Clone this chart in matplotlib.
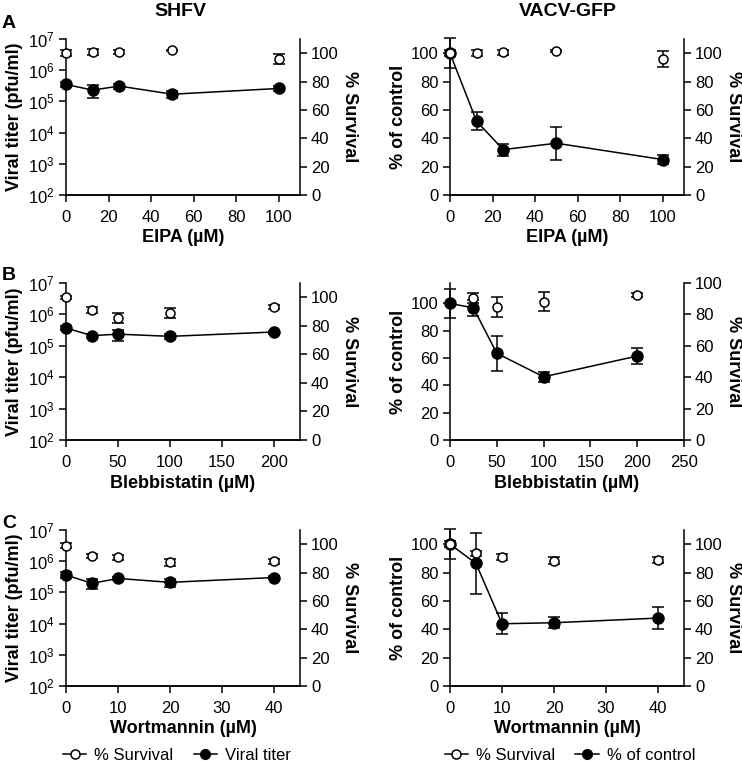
import matplotlib
matplotlib.use("Agg")
import matplotlib.pyplot as plt
from matplotlib.lines import Line2D
import numpy as np

plt.rcParams['font.family'] = ['Liberation Sans', 'DejaVu Sans']

# ---------------- data ----------------
# Panel A: EIPA
eipa_x = [0, 12.5, 25, 50, 100]
shfv_eipa_titer = [3.5e5, 2.3e5, 3.1e5, 1.7e5, 2.6e5]
shfv_eipa_titer_err = [0.7e5, 1.0e5, 0.6e5, 0.4e5, 0.5e5]
shfv_eipa_surv = [100, 100.7, 100.7, 101.9, 95.8]
shfv_eipa_surv_err = [2, 2, 1.5, 0.5, 3.5]
vacv_eipa_ctrl = [100, 52, 32, 36.5, 25]
vacv_eipa_ctrl_err = [10.5, 6.2, 4.3, 11.7, 3]
vacv_eipa_surv = [100, 100, 100.5, 101.4, 96]
vacv_eipa_surv_err = [2, 2, 1.5, 0.5, 5.4]

# Panel B: Blebbistatin
bleb_x = [0, 25, 50, 100, 200]
shfv_bleb_titer = [3.7e5, 2.1e5, 2.35e5, 2.0e5, 2.75e5]
shfv_bleb_titer_err = [0.5e5, 0.3e5, 0.9e5, 0.3e5, 0.3e5]
shfv_bleb_surv = [100, 91.1, 85.7, 88.8, 93.4]
shfv_bleb_surv_err = [1, 2, 3.5, 3.5, 1.5]
vacv_bleb_ctrl = [100, 96.8, 63.5, 46.3, 61.5]
vacv_bleb_ctrl_err = [10.7, 6, 13, 3.7, 5.7]
vacv_bleb_surv = [np.nan, 90.5, 84.6, 88, 92.2]
vacv_bleb_surv_err = [0, 3.2, 6.5, 6, 1.4]

# Panel C: Wortmannin
wort_x = [0, 5, 10, 20, 40]
shfv_wort_titer = [3.6e5, 1.95e5, 2.8e5, 2.1e5, 3.0e5]
shfv_wort_titer_err = [0.8e5, 0.7e5, 0.3e5, 0.6e5, 0.3e5]
shfv_wort_surv = [99, 91.9, 90.7, 87.4, 87.9]
shfv_wort_surv_err = [1.5, 1.5, 2, 2.5, 2]
vacv_wort_ctrl = [100, 86.4, 43.9, 44.6, 47.9]
vacv_wort_ctrl_err = [10.5, 21.7, 7.5, 3.9, 8]
vacv_wort_surv = [100, 93.5, 91.1, 88.3, 88.8]
vacv_wort_surv_err = [2, 2, 2, 2.5, 2]

panel_letters = ['A', 'B', 'C']
col_titles = ['SHFV', 'VACV-GFP']
xlabels = ['EIPA (µM)', 'Blebbistatin (µM)', 'Wortmannin (µM)']

# ---------------- layout ----------------
W, H = 742, 761
fig = plt.figure(figsize=(W / 100, H / 100), dpi=100)

def frac_rect(x0, x1, ytop, ybot):
    return [x0 / W, 1 - ybot / H, (x1 - x0) / W, (ybot - ytop) / H]

rows_y = [(39, 195), (283, 440), (530, 686)]
left_x = (66, 300)
right_x = (450, 684)

TICK_FS = 12
LABEL_FS = 13
LW = 1.1

def style(ax):
    ax.spines['top'].set_visible(False)
    for s in ['left', 'right', 'bottom']:
        ax.spines[s].set_linewidth(LW)
    ax.tick_params(direction='out', length=5, width=LW, labelsize=TICK_FS, pad=3)
    ax.tick_params(axis='x', pad=6)
    ax.patch.set_alpha(0)

def plot_main(ax, x, y, err):
    ax.errorbar(x, y, yerr=err, fmt='-o', color='black', mfc='black', mec='black',
                ms=8, lw=1.1, elinewidth=1.1, capsize=4.5, capthick=1.1,
                clip_on=False, zorder=3)

def plot_surv(ax, x, y, err):
    ax.errorbar(x, y, yerr=err, fmt='o', color='black', mfc='white', mec='black',
                ms=6.5, mew=1.1, elinewidth=1.1, capsize=4.5, capthick=1.1,
                clip_on=False, zorder=4)

rows = [
    dict(x=eipa_x, xlim=(0, 110), xticks=[0, 20, 40, 60, 80, 100],
         xlim_r=(0, 110), xticks_r=[0, 20, 40, 60, 80, 100],
         titer=shfv_eipa_titer, titer_err=shfv_eipa_titer_err,
         ssurv=shfv_eipa_surv, ssurv_err=shfv_eipa_surv_err,
         ctrl=vacv_eipa_ctrl, ctrl_err=vacv_eipa_ctrl_err,
         vsurv=vacv_eipa_surv, vsurv_err=vacv_eipa_surv_err,
         ctrl_ylim=(0, 110), vsurv_ylim=(0, 110)),
    dict(x=bleb_x, xlim=(0, 225), xticks=[0, 50, 100, 150, 200],
         xlim_r=(0, 250), xticks_r=[0, 50, 100, 150, 200, 250],
         titer=shfv_bleb_titer, titer_err=shfv_bleb_titer_err,
         ssurv=shfv_bleb_surv, ssurv_err=shfv_bleb_surv_err,
         ctrl=vacv_bleb_ctrl, ctrl_err=vacv_bleb_ctrl_err,
         vsurv=vacv_bleb_surv, vsurv_err=vacv_bleb_surv_err,
         ctrl_ylim=(0, 115), vsurv_ylim=(0, 100)),
    dict(x=wort_x, xlim=(0, 45), xticks=[0, 10, 20, 30, 40],
         xlim_r=(0, 45), xticks_r=[0, 10, 20, 30, 40],
         titer=shfv_wort_titer, titer_err=shfv_wort_titer_err,
         ssurv=shfv_wort_surv, ssurv_err=shfv_wort_surv_err,
         ctrl=vacv_wort_ctrl, ctrl_err=vacv_wort_ctrl_err,
         vsurv=vacv_wort_surv, vsurv_err=vacv_wort_surv_err,
         ctrl_ylim=(0, 110), vsurv_ylim=(0, 110)),
]

YL_X = -0.185
YR_X = 1.175
XL_Y = -0.22

for i, r in enumerate(rows):
    ytop, ybot = rows_y[i]
    # ---- SHFV (left column) ----
    ax = fig.add_axes(frac_rect(*left_x, ytop, ybot))
    ax.set_yscale('log')
    ax.set_ylim(1e2, 1e7)
    ax.set_yticks([1e2, 1e3, 1e4, 1e5, 1e6, 1e7])
    ax.yaxis.set_minor_locator(matplotlib.ticker.NullLocator())
    ax.set_xlim(*r['xlim'])
    ax.set_xticks(r['xticks'])
    style(ax)
    ax.spines['right'].set_visible(False)
    plot_main(ax, r['x'], r['titer'], r['titer_err'])
    ax.set_ylabel('Viral titer (pfu/ml)', fontsize=LABEL_FS, fontweight='bold')
    ax.yaxis.set_label_coords(YL_X, 0.5)
    ax.set_xlabel(xlabels[i], fontsize=LABEL_FS, fontweight='bold')
    ax.xaxis.set_label_coords(0.5, XL_Y)
    ax2 = ax.twinx()
    style(ax2)
    ax2.spines['left'].set_visible(False)
    ax2.set_ylim(0, 110)
    ax2.set_yticks([0, 20, 40, 60, 80, 100])
    plot_surv(ax2, r['x'], r['ssurv'], r['ssurv_err'])
    ax2.set_ylabel('% Survival', fontsize=LABEL_FS, fontweight='bold', rotation=-90,
                   va='bottom')
    ax2.yaxis.set_label_coords(YR_X, 0.5)

    # ---- VACV-GFP (right column) ----
    bx = fig.add_axes(frac_rect(*right_x, ytop, ybot))
    bx.set_ylim(*r['ctrl_ylim'])
    bx.set_yticks([0, 20, 40, 60, 80, 100])
    bx.set_xlim(*r['xlim_r'])
    bx.set_xticks(r['xticks_r'])
    style(bx)
    bx.spines['right'].set_visible(False)
    plot_main(bx, r['x'], r['ctrl'], r['ctrl_err'])
    bx.set_ylabel('% of control', fontsize=LABEL_FS, fontweight='bold')
    bx.yaxis.set_label_coords(YL_X, 0.5)
    bx.set_xlabel(xlabels[i], fontsize=LABEL_FS, fontweight='bold')
    bx.xaxis.set_label_coords(0.5, XL_Y)
    bx2 = bx.twinx()
    style(bx2)
    bx2.spines['left'].set_visible(False)
    bx2.set_ylim(*r['vsurv_ylim'])
    bx2.set_yticks([0, 20, 40, 60, 80, 100])
    plot_surv(bx2, r['x'], r['vsurv'], r['vsurv_err'])
    bx2.set_ylabel('% Survival', fontsize=LABEL_FS, fontweight='bold', rotation=-90,
                   va='bottom')
    bx2.yaxis.set_label_coords(YR_X, 0.5)

# titles and panel letters
fig.text(180 / W, 1 - 11 / H, col_titles[0], ha='center', va='center',
         fontsize=14, fontweight='bold')
fig.text(568 / W, 1 - 11 / H, col_titles[1], ha='center', va='center',
         fontsize=14, fontweight='bold')
for letter, yc in zip(panel_letters, [24, 276, 524]):
    fig.text(2 / W, 1 - yc / H, letter, ha='left', va='center',
             fontsize=14, fontweight='bold')

# legends
h_surv = Line2D([], [], color='black', lw=1.1, marker='o', mfc='white', mec='black',
                ms=6.5, mew=1.1)
h_main = Line2D([], [], color='black', lw=1.1, marker='o', mfc='black', mec='black', ms=7)
fig.legend([h_surv, h_main], ['% Survival', 'Viral titer'], loc='center',
           bbox_to_anchor=(177 / W, 1 - 755 / H), ncol=2, frameon=False,
           fontsize=12, handlelength=1.4, columnspacing=1.2, handletextpad=0.5,
           borderpad=0, borderaxespad=0)
fig.legend([h_surv, h_main], ['% Survival', '% of control'], loc='center',
           bbox_to_anchor=(570 / W, 1 - 755 / H), ncol=2, frameon=False,
           fontsize=12, handlelength=1.4, columnspacing=1.2, handletextpad=0.5,
           borderpad=0, borderaxespad=0)

fig.savefig('out.png', dpi=100)
